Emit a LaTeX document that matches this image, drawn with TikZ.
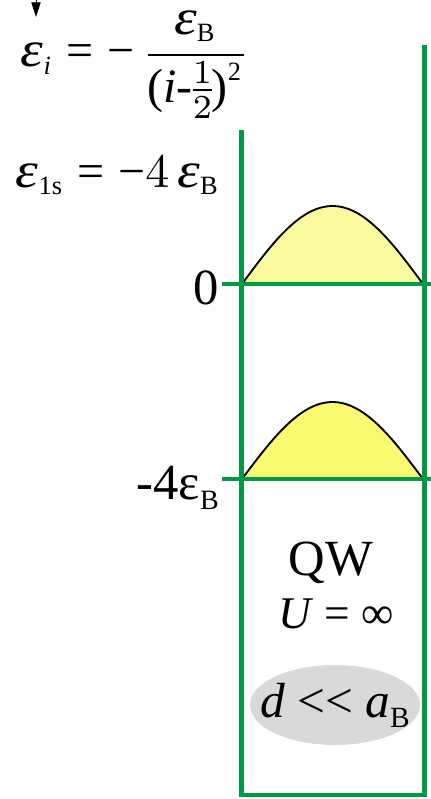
\documentclass[tikz,border=0pt]{standalone}
\usepackage{amsmath}
\usepackage{graphicx}
\usepackage{fontspec}
\setmainfont{Liberation Serif}
\usepackage{tikz}
\usetikzlibrary{arrows.meta,shapes.geometric}
\definecolor{wellgreen}{RGB}{0,153,68}
\definecolor{lightbump}{RGB}{250,250,158}
\definecolor{darkbump}{RGB}{250,250,112}
\newcommand{\eps}{\text{\itshape\scalebox{1.2}[1.05]{ε}}}
\newcommand{\eqs}{\mathrel{\text{=}}}
\newcommand{\mns}{\text{−}}
\newcommand{\lowsub}[1]{\mbox{\fontsize{5.5}{5.5}\selectfont #1}}

\begin{document}
\begin{tikzpicture}[x=0.75pt, y=-0.75pt,
  wall/.style={draw=wellgreen, line width=3.7pt},
  level/.style={draw=wellgreen, line width=3.4pt},
  bump/.style={draw=black, line width=1.4pt, line join=round},
  big/.style={inner sep=0pt, font=\fontsize{38}{42}\selectfont},
  formula/.style={inner sep=0pt, anchor=base west, font=\fontsize{10}{12}\selectfont, scale=3.6}]
\useasboundingbox (0,0) rectangle (431,799);
\draw[bump, fill=lightbump] plot[domain=0:180, samples=50] ({242+\x/180*181}, {284-78*sin(\x)}) -- cycle;
\draw[bump, fill=darkbump] plot[domain=0:180, samples=50] ({242+\x/180*181}, {479-77*sin(\x)}) -- cycle;
\coordinate (lwtop) at (241.5,130);
\coordinate (rwtop) at (424.5,45);
\coordinate (lwbot) at (241.5,795);
\coordinate (rwbot) at (424.5,795);
\draw[wall, line join=miter] (lwtop) -- (lwbot) -- (rwbot) -- (rwtop);
\coordinate (zeroleft) at (222,284);
\coordinate (zeroright) at (431,284);
\coordinate (fourleft) at (222,479);
\coordinate (fourright) at (431,479);
\draw[level] (zeroleft) -- (zeroright);
\draw[level] (fourleft) -- (fourright);
\node[big, anchor=base east] (zero) at (219,304) {0};
\node[big, anchor=base east] (fourB) at (219,499) {-4ε\raisebox{-0.2em}{\fontsize{21}{21}\selectfont B}};
\node[formula] (epsi) at (20,67) {$\nulldelimiterspace=0pt \eps_{\lowsub{\itshape i}} \eqs \mns\;\dfrac{\eps_{\lowsub{B}}}{\text{(}\text{\itshape i}\text{-}\tfrac{1}{2}\text{)}^{\lowsub{2}}}$};
\node[formula] (epsone) at (15,187) {$\eps_{\lowsub{1s}} \eqs \mns4\,\eps_{\lowsub{B}}$};
\coordinate (arrtop) at (36,0);
\coordinate (arrtip) at (36,17);
\draw[line width=0.6pt, -{Triangle[width=7pt,length=11pt]}] (arrtop) -- (arrtip);
\node[big, anchor=base] (qw) at (331,575) {QW};
\node[inner sep=0pt, anchor=base, font=\fontsize{34}{38}\selectfont] (uinf) at (336,628) {\textit{U} = ∞};
\node[ellipse, fill=black!15, minimum width=127.5pt, minimum height=60pt, inner sep=0pt] (dab) at (335,705) {};
\node[inner sep=0pt, font=\fontsize{37}{40}\selectfont] (dabtext) at (dab) {\textit{d} <\kern0pt< \textit{a}\raisebox{-0.2em}{\fontsize{22}{22}\selectfont B}};
\end{tikzpicture}
\end{document}
